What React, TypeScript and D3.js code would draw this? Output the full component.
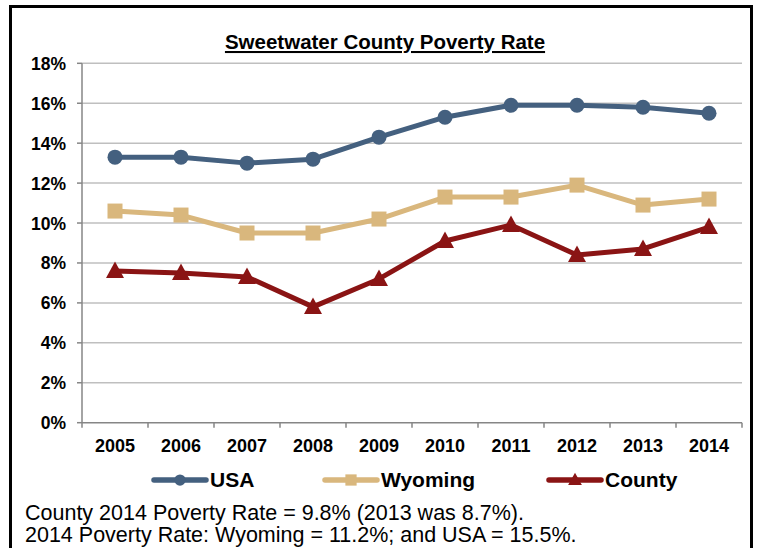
import React from "react";
import * as d3 from "d3";

const years = ["2005", "2006", "2007", "2008", "2009", "2010", "2011", "2012", "2013", "2014"];
const usa = [13.3, 13.3, 13.0, 13.2, 14.3, 15.3, 15.9, 15.9, 15.8, 15.5];
const wyoming = [10.6, 10.4, 9.5, 9.5, 10.2, 11.3, 11.3, 11.9, 10.9, 11.2];
const county = [7.6, 7.5, 7.3, 5.8, 7.2, 9.1, 9.9, 8.4, 8.7, 9.8];
const yTicks = [0, 2, 4, 6, 8, 10, 12, 14, 16, 18];
const title = "Sweetwater County Poverty Rate";
const notes = [
  "County 2014 Poverty Rate = 9.8% (2013 was 8.7%).",
  "2014 Poverty Rate: Wyoming = 11.2%; and USA = 15.5%.",
];

const C_USA = "#44607f";
const C_WY = "#d9b77d";
const C_CO = "#8a1414";
const SANS = "'Liberation Sans', Arial, sans-serif";

function Marker({ kind, x, y, color, s = 1 }: { kind: string; x: number; y: number; color: string; s?: number }) {
  if (kind === "circle") return <circle cx={x} cy={y} r={7.5 * s} fill={color} />;
  if (kind === "square") return <rect x={x - 7.5 * s} y={y - 7.5 * s} width={15 * s} height={15 * s} fill={color} />;
  const k = 8.5 * s;
  return <path d={`M${x},${y - k - 1}L${x + k + 0.5},${y + k - 1.5}L${x - k - 0.5},${y + k - 1.5}Z`} fill={color} />;
}

export default function App() {
  const W = 762, H = 548;
  const left = 82, right = 742, top = 63.3, bottom = 422.7;
  const x = d3.scaleBand<string>().domain(years).range([left, right]);
  const y = d3.scaleLinear().domain([0, 18]).range([bottom, top]);
  const cx = (i: number) => (x(years[i]) as number) + x.bandwidth() / 2;
  const line = d3.line<number>().x((_, i) => cx(i)).y((d) => y(d));
  const series = [
    { name: "USA", data: usa, color: C_USA, kind: "circle", lx: 152 },
    { name: "Wyoming", data: wyoming, color: C_WY, kind: "square", lx: 323 },
    { name: "County", data: county, color: C_CO, kind: "triangle", lx: 547 },
  ];
  const boundaries = years.map((yr) => x(yr) as number).concat([right]);
  return (
    <svg width={W} height={H} style={{ position: "absolute", left: 0, top: 0 }}>
      <rect x={0} y={0} width={W} height={H} fill="#fff" />
      <rect x={10.5} y={6.5} width={741} height={560} fill="none" stroke="#000" strokeWidth={3} />
      <text x={385} y={49} textAnchor="middle" fontFamily={SANS} fontWeight="bold" fontSize={20.5} textDecoration="underline">
        {title}
      </text>
      {yTicks.map((t) => (
        <g key={t}>
          {t > 0 && <line x1={left} x2={right} y1={y(t)} y2={y(t)} stroke="#bfbfbf" strokeWidth={1.5} />}
          <line x1={left - 5} x2={left} y1={y(t)} y2={y(t)} stroke="#868686" strokeWidth={1.5} />
          <text x={66} y={y(t) + 6.5} textAnchor="end" fontFamily={SANS} fontWeight="bold" fontSize={17.5}>
            {t}%
          </text>
        </g>
      ))}
      <line x1={left} x2={left} y1={top} y2={bottom} stroke="#868686" strokeWidth={1.5} />
      <line x1={left} x2={right} y1={bottom} y2={bottom} stroke="#868686" strokeWidth={1.5} />
      {boundaries.map((b, i) => (
        <line key={i} x1={b} x2={b} y1={bottom} y2={bottom + 5} stroke="#868686" strokeWidth={1.5} />
      ))}
      {years.map((yr, i) => (
        <text key={yr} x={cx(i)} y={451.5} textAnchor="middle" fontFamily={SANS} fontWeight="bold" fontSize={18}>
          {yr}
        </text>
      ))}
      {series.map((s) => (
        <g key={s.name}>
          <path d={line(s.data) || ""} fill="none" stroke={s.color} strokeWidth={5} strokeLinejoin="round" />
          {s.data.map((v, i) => (
            <Marker key={i} kind={s.kind} x={cx(i)} y={y(v)} color={s.color} />
          ))}
        </g>
      ))}
      {series.map((s) => (
        <g key={"l" + s.name}>
          <line x1={s.lx + 2} x2={s.lx + 54} y1={480} y2={480} stroke={s.color} strokeWidth={5.5} strokeLinecap="round" />
          <Marker kind={s.kind} x={s.lx + 28} y={480} color={s.color} s={0.75} />
          <text x={s.lx + 58} y={487} fontFamily={SANS} fontWeight="bold" fontSize={21}>
            {s.name}
          </text>
        </g>
      ))}
      {notes.map((n, i) => (
        <text key={i} x={25} y={520 + i * 22} fontFamily={SANS} fontSize={21.5}>
          {n}
        </text>
      ))}
    </svg>
  );
}
